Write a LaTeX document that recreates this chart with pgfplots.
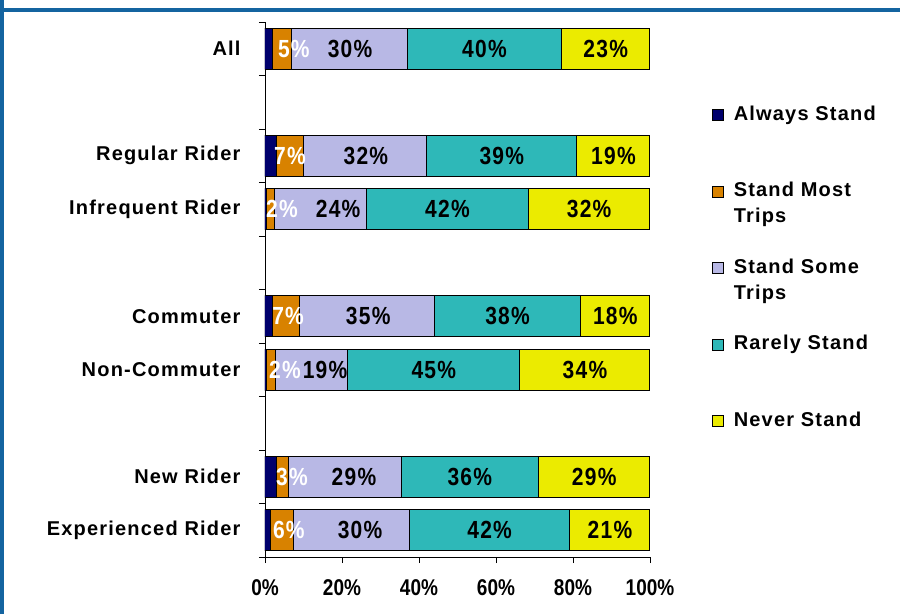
\documentclass[border=0pt]{standalone}
\usepackage{graphicx}
\usepackage{pgfplots}
\pgfplotsset{compat=1.18}
\usepackage{pgfplotstable}
\usepackage{fontspec}
\setmainfont{Liberation Sans}
\newfontfamily\lsp[LetterSpace=6]{Liberation Sans}

\definecolor{cA}{RGB}{0,0,128}
\definecolor{cB}{RGB}{240,145,0}
\definecolor{cC}{RGB}{204,204,255}
\definecolor{cD}{RGB}{51,204,204}
\definecolor{cE}{RGB}{255,255,0}
\definecolor{frameblue}{RGB}{20,100,160}

% lmost, lsome: label centres of the small segments as placed in the reference
\pgfplotstableread{
pos always most some rarely never lmost lsome
9 2   5   30   40   23   7.5 22.1
7 3   7   32   39   19   6.5 26.2
6 0.4 2   24   42   31.6 4.4 19.0
4 2   7   35   38   18   6.0 26.8
3 0.3 2.4 18.8 44.7 33.8 5.2 15.6
1 3   3   29.4 35.6 29   7.0 23.1
0 1.5 6   30   41.7 20.8 6.2 24.7
}\data
\pgfplotstablecreatecol[expr={\thisrow{always}+\thisrow{most}+\thisrow{some}+0.5*\thisrow{rarely}}]{crarely}\data
\pgfplotstablecreatecol[expr={100-0.5*\thisrow{never}}]{cnever}\data

\pgfplotsset{
  segA/.style={draw=black, line width=1pt, top color=cA!85!black, middle color=cA, bottom color=cA!85!black},
  segB/.style={draw=black, line width=1pt, top color=cB!90!black, middle color=cB, bottom color=cB!90!black},
  segC/.style={draw=black, line width=1pt, top color=cC!90!black, middle color=cC, bottom color=cC!90!black},
  segD/.style={draw=black, line width=1pt, top color=cD!90!black, middle color=cD, bottom color=cD!90!black},
  segE/.style={draw=black, line width=1pt, top color=cE!92!black, middle color=cE, bottom color=cE!92!black},
}
\newcommand\tl[1]{\scalebox{1}[1.2]{#1}}

\begin{document}
\begin{tikzpicture}
\useasboundingbox (-265pt,-57pt) rectangle (635pt,557pt);
\fill[white] (-265pt,-57pt) rectangle (635pt,557pt);
\begin{axis}[
  scale only axis, width=385pt, height=535pt,
  at={(0,0)}, anchor=south west,
  xbar stacked, bar width=41pt,
  xmin=0, xmax=100, ymin=-0.5, ymax=9.5,
  axis lines*=left,
  axis line style={line width=0.8pt},
  tick align=outside,
  major tick length=6pt,
  tick style={black, line width=0.8pt},
  xtick={0,20,...,100},
  xticklabels={\tl{0\%},\tl{20\%},\tl{40\%},\tl{60\%},\tl{80\%},\tl{100\%}},
  xticklabel style={font=\fontsize{19}{20}\selectfont\bfseries, yshift=-13pt},
  ytick={-0.5,0.5,...,9.5}, yticklabels={},
  extra y ticks={0,1,3,4,6,7,9},
  extra y tick labels={Experienced Rider,New Rider,Non-Commuter,Commuter,Infrequent Rider,Regular Rider,All},
  extra y tick style={major tick length=0pt, yticklabel style={font=\fontsize{20}{22}\selectfont\lsp\bfseries, anchor=east, xshift=-21pt}},
  legend cell align=left,
  legend style={at={(axis description cs:1.161,0.888)}, anchor=north west, draw=none, fill=none,
    inner sep=0pt, outer sep=0pt, row sep=0pt, column sep=10pt,
    font=\fontsize{20}{26}\selectfont\lsp\bfseries,
    nodes={inner sep=0pt, outer sep=0pt, text height=38.25pt, text depth=38.25pt}},
  legend image code/.code={\draw[#1, line width=0.8pt] (0pt,-0.5pt) rectangle (11pt,10.5pt);},
]
\addplot[segA] table[x=always, y=pos]{\data};
\addplot[segB] table[x=most, y=pos]{\data};
\addplot[segC] table[x=some, y=pos]{\data};
\addplot[segD] table[x=rarely, y=pos]{\data};
\addplot[segE] table[x=never, y=pos]{\data};
\addlegendentry{Always Stand}
\addlegendentry{\parbox[t]{160pt}{Stand Most\\Trips}}
\addlegendentry{\parbox[t]{160pt}{Stand Some\\Trips}}
\addlegendentry{Rarely Stand}
\addlegendentry{Never Stand}
\end{axis}
\begin{axis}[
  scale only axis, width=385pt, height=535pt,
  at={(0,0)}, anchor=south west,
  xmin=0, xmax=100, ymin=-0.5, ymax=9.5, hide axis,
  point meta=explicit,
  nodes near coords={\scalebox{1}[1.18]{\pgfmathprintnumber[fixed,precision=0,assume math mode=true]{\pgfplotspointmeta}\%}},
  nodes near coords style={anchor=center, font=\fontsize{21}{22}\selectfont\lsp\bfseries},
]
\addplot[draw=none, mark=none, nodes near coords style={text=white}] table[x=lmost, y=pos, meta=most]{\data};
\addplot[draw=none, mark=none] table[x=lsome, y=pos, meta=some]{\data};
\addplot[draw=none, mark=none] table[x=crarely, y=pos, meta=rarely]{\data};
\addplot[draw=none, mark=none] table[x=cnever, y=pos, meta=never]{\data};
\end{axis}
\fill[frameblue] (-265pt,-57pt) rectangle (-261pt,557pt);
\fill[frameblue] (-265pt,545pt) rectangle (635pt,548.5pt);
\end{tikzpicture}
\end{document}
